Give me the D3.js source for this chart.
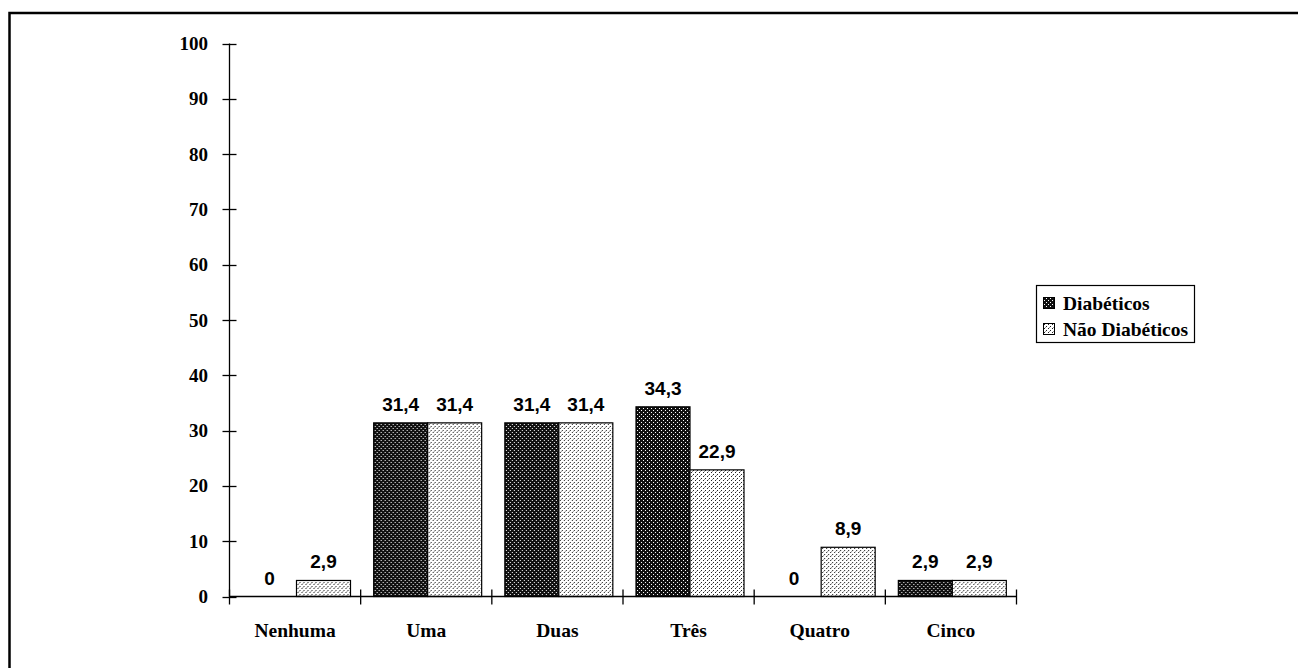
<!DOCTYPE html>
<html><head><meta charset="utf-8">
<script src="https://cdn.jsdelivr.net/npm/d3@7"></script>
<style>body{margin:0;background:#fff}svg{display:block}</style>
</head><body>
<svg id="c" width="1298" height="668"></svg>
<script>
const categories = ["Nenhuma","Uma","Duas","Três","Quatro","Cinco"];
const seriesNames = ["Diabéticos","Não Diabéticos"];
const diabeticos = [0, 31.4, 31.4, 34.3, 0, 2.9];
const naoDiabeticos = [2.9, 31.4, 31.4, 22.9, 8.9, 2.9];
const yTicks = [0,10,20,30,40,50,60,70,80,90,100];
const valueLabels = [
  ["0","31,4","31,4","34,3","0","2,9"],
  ["2,9","31,4","31,4","22,9","8,9","2,9"]
];

const svg = d3.select("#c");
const defs = svg.append("defs");
const pd = defs.append("pattern").attr("id","pDark").attr("patternUnits","userSpaceOnUse").attr("width",4).attr("height",4);
pd.append("rect").attr("width",4).attr("height",4).attr("fill","#111");
pd.append("rect").attr("x",0).attr("y",0).attr("width",1).attr("height",1).attr("fill","#fff");
pd.append("rect").attr("x",2).attr("y",2).attr("width",1).attr("height",1).attr("fill","#fff");
const pl = defs.append("pattern").attr("id","pLight").attr("patternUnits","userSpaceOnUse").attr("width",4).attr("height",4);
pl.append("rect").attr("width",4).attr("height",4).attr("fill","#fff");
pl.append("rect").attr("x",0).attr("y",0).attr("width",1).attr("height",1).attr("fill","#222");
pl.append("rect").attr("x",2).attr("y",2).attr("width",1).attr("height",1).attr("fill","#222");
pl.append("rect").attr("x",1).attr("y",3).attr("width",1).attr("height",1).attr("fill","#999");
const fills = ["url(#pDark)","url(#pLight)"];

const serif = "Liberation Serif, Times New Roman, serif";
const sans = "Liberation Sans, Arial, sans-serif";

// frame
svg.append("path").attr("d","M9.5,700 L9.5,13 L1310,13").attr("fill","none").attr("stroke","#000").attr("stroke-width",2.5);

const x0 = 229.5, x1 = 1016.5, yTop = 43.5, yBot = 596.5;
const x = d3.scaleBand().domain(categories).range([x0, x1]).padding(0);
const xs = d3.scaleBand().domain(seriesNames).range([13, 121]).padding(0);
const y = d3.scaleLinear().domain([0,100]).range([yBot, yTop]);

// y axis
const gy = svg.append("g");
gy.append("line").attr("x1",x0).attr("x2",x0).attr("y1",yTop).attr("y2",yBot).attr("stroke","#000").attr("stroke-width",1.3);
gy.selectAll("line.t").data(yTicks).join("line").attr("class","t")
  .attr("x1",x0-7).attr("x2",x0+7).attr("y1",d=>Math.round(y(d))+0.5).attr("y2",d=>Math.round(y(d))+0.5)
  .attr("stroke","#000").attr("stroke-width",1.3);
gy.selectAll("text").data(yTicks).join("text")
  .attr("x",208).attr("y",d=>y(d)+6.5).attr("text-anchor","end")
  .attr("font-family",serif).attr("font-weight","bold").attr("font-size",19)
  .text(d=>d);

// bars
const data = categories.map((c,i)=>({c, vals:[diabeticos[i], naoDiabeticos[i]]}));
const groups = svg.append("g").selectAll("g").data(data).join("g").attr("transform",d=>`translate(${x(d.c)},0)`);
groups.selectAll("rect").data(d=>d.vals.map((v,j)=>({v,j}))).join("rect")
  .attr("x",d=>xs(seriesNames[d.j])).attr("width",xs.bandwidth())
  .attr("y",d=>y(d.v)).attr("height",d=>yBot-y(d.v))
  .attr("fill",d=>fills[d.j]).attr("stroke","#000").attr("stroke-width",d=>d.v>0?1.2:0);
groups.each(function(d,i){
  d3.select(this).selectAll("text").data(d.vals.map((v,j)=>({v,j}))).join("text")
    .attr("x",e=>xs(seriesNames[e.j])+xs.bandwidth()/2)
    .attr("y",e=>y(e.v)-12)
    .attr("text-anchor","middle")
    .attr("font-family",sans).attr("font-weight","bold").attr("font-size",19)
    .text(e=>valueLabels[e.j][i]);
});

// x axis
const gx = svg.append("g");
gx.append("line").attr("x1",x0).attr("x2",x1).attr("y1",yBot).attr("y2",yBot).attr("stroke","#000").attr("stroke-width",1.3);
const edges = categories.map(c=>x(c)).concat([x1]);
gx.selectAll("line.t").data(edges).join("line").attr("class","t")
  .attr("x1",d=>d).attr("x2",d=>d).attr("y1",yBot-7).attr("y2",yBot+8).attr("stroke","#000").attr("stroke-width",1.3);
gx.selectAll("text").data(categories).join("text")
  .attr("x",d=>x(d)+x.bandwidth()/2).attr("y",637).attr("text-anchor","middle")
  .attr("font-family",serif).attr("font-weight","bold").attr("font-size",19.5)
  .text(d=>d);

// legend
const lg = svg.append("g");
lg.append("rect").attr("x",1036.5).attr("y",285.5).attr("width",158).attr("height",57).attr("fill","#fff").attr("stroke","#000").attr("stroke-width",1.2);
seriesNames.forEach((s,i)=>{
  const base = 310 + i*26;
  lg.append("rect").attr("x",1043.5).attr("y",base-12.5).attr("width",11).attr("height",11).attr("fill",fills[i]).attr("stroke","#000").attr("stroke-width",1);
  lg.append("text").attr("x",1063).attr("y",base).attr("font-family",serif)
    .attr("font-weight","bold").attr("font-size",19.5).text(s);
});
</script>
</body></html>
